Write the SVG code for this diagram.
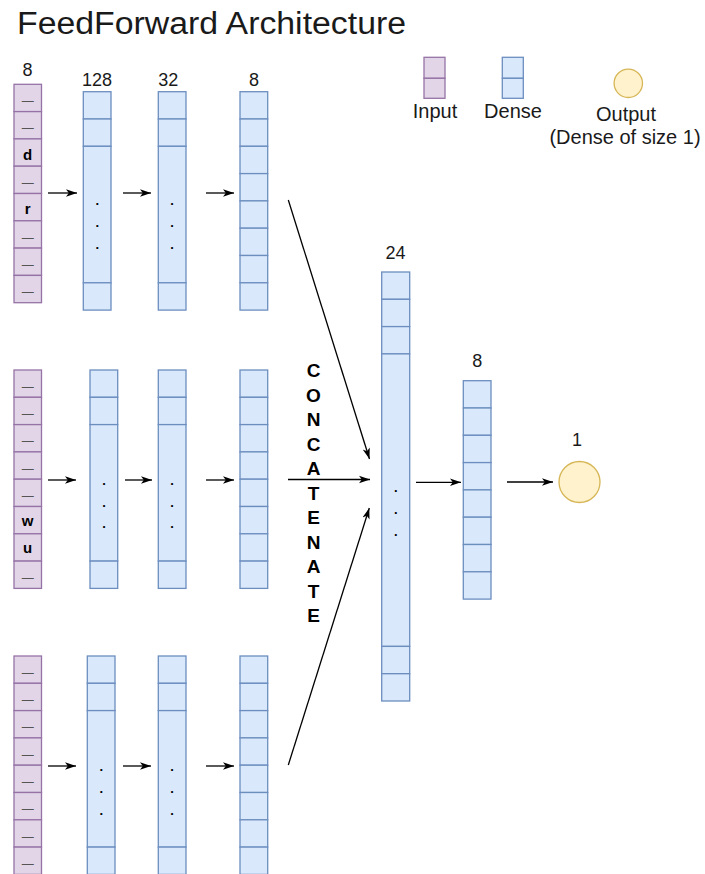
<svg xmlns="http://www.w3.org/2000/svg" width="705" height="874" viewBox="0 0 705 874">
<defs>
<marker id="ah" markerWidth="12" markerHeight="9" refX="11" refY="4.5" orient="auto" markerUnits="userSpaceOnUse">
<path d="M0,0.8 L11,4.5 L0,8.2 L2.8,4.5 Z" fill="#000"/>
</marker>
<style>
.in{fill:#e1d5e7;stroke:#9673a6;stroke-width:1.3}
.de{fill:#dae8fc;stroke:#6c8ebf;stroke-width:1.3}
.ou{fill:#fff2cc;stroke:#d6b656;stroke-width:1.3}
.t{font-family:"Liberation Sans",Arial,sans-serif;fill:#1a1a1a}
.num{font-family:"Liberation Sans",Arial,sans-serif;font-size:18px;text-anchor:middle;fill:#1a1a1a}
.leg{font-family:"Liberation Sans",Arial,sans-serif;font-size:20px;text-anchor:middle;fill:#1a1a1a}
.dash{font-family:"Liberation Sans",Arial,sans-serif;font-size:12px;text-anchor:middle;fill:#555}
.let{font-family:"Liberation Sans",Arial,sans-serif;font-size:15px;font-weight:bold;text-anchor:middle;fill:#000}
.dot{font-family:"Liberation Sans",Arial,sans-serif;font-size:13px;font-weight:bold;text-anchor:middle;fill:#000}
.cc{font-family:"Liberation Sans",Arial,sans-serif;font-size:19px;font-weight:bold;text-anchor:middle;fill:#000}
.ar{stroke:#000;stroke-width:1.3;fill:none;marker-end:url(#ah)}
</style>
</defs>
<rect width="705" height="874" fill="#fff"/>
<text class="t" x="17" y="34" font-size="31" textLength="389" lengthAdjust="spacingAndGlyphs">FeedForward Architecture</text>

<g id="legend">
<rect class="in" x="424" y="57.3" width="21" height="21"/>
<rect class="in" x="424" y="78.3" width="21" height="20"/>
<rect class="de" x="502.3" y="57.3" width="21" height="21"/>
<rect class="de" x="502.3" y="78.3" width="21" height="20"/>
<circle class="ou" cx="628.3" cy="83.3" r="14.2"/>
<text class="leg" x="435" y="118.3">Input</text>
<text class="leg" x="513" y="118.3">Dense</text>
<text class="leg" x="626" y="121.3">Output</text>
<text class="leg" x="625" y="144.3">(Dense of size 1)</text>
</g>

<!-- Row 1 -->
<g id="input1">
<text class="num" x="27.5" y="75.7">8</text>
<rect class="in" x="14" y="84.3" width="27.5" height="27.3"/>
<rect class="in" x="14" y="111.6" width="27.5" height="27.3"/>
<rect class="in" x="14" y="138.9" width="27.5" height="27.3"/>
<rect class="in" x="14" y="166.2" width="27.5" height="27.3"/>
<rect class="in" x="14" y="193.5" width="27.5" height="27.3"/>
<rect class="in" x="14" y="220.8" width="27.5" height="27.3"/>
<rect class="in" x="14" y="248.1" width="27.5" height="27.3"/>
<rect class="in" x="14" y="275.4" width="27.5" height="27.3"/>
<text class="dash" x="27.7" y="105">—</text>
<text class="dash" x="27.7" y="132.3">—</text>
<text class="let" x="27.7" y="159.5">d</text>
<text class="dash" x="27.7" y="186.9">—</text>
<text class="let" x="27.7" y="214">r</text>
<text class="dash" x="27.7" y="241.5">—</text>
<text class="dash" x="27.7" y="268.8">—</text>
<text class="dash" x="27.7" y="296.1">—</text>
</g>
<g id="dense128_1">
<text class="num" x="97" y="85.7">128</text>
<rect class="de" x="83.3" y="91.7" width="27.7" height="27.3"/>
<rect class="de" x="83.3" y="119" width="27.7" height="27.3"/>
<rect class="de" x="83.3" y="146.3" width="27.7" height="136.5"/>
<rect class="de" x="83.3" y="282.8" width="27.7" height="27.3"/>
<text class="dot" x="97.2" y="205">.</text>
<text class="dot" x="97.2" y="227">.</text>
<text class="dot" x="97.2" y="249">.</text>
</g>
<g id="dense32_1">
<text class="num" x="168.3" y="85.7">32</text>
<rect class="de" x="158.3" y="91.7" width="27.7" height="27.3"/>
<rect class="de" x="158.3" y="119" width="27.7" height="27.3"/>
<rect class="de" x="158.3" y="146.3" width="27.7" height="136.5"/>
<rect class="de" x="158.3" y="282.8" width="27.7" height="27.3"/>
<text class="dot" x="172" y="205">.</text>
<text class="dot" x="172" y="227">.</text>
<text class="dot" x="172" y="249">.</text>
</g>
<g id="dense8_1">
<text class="num" x="254" y="85.7">8</text>
<rect class="de" x="240" y="91.7" width="27.7" height="27.3"/>
<rect class="de" x="240" y="119" width="27.7" height="27.3"/>
<rect class="de" x="240" y="146.3" width="27.7" height="27.3"/>
<rect class="de" x="240" y="173.6" width="27.7" height="27.3"/>
<rect class="de" x="240" y="200.9" width="27.7" height="27.3"/>
<rect class="de" x="240" y="228.2" width="27.7" height="27.3"/>
<rect class="de" x="240" y="255.5" width="27.7" height="27.3"/>
<rect class="de" x="240" y="282.8" width="27.7" height="27.3"/>
</g>

<!-- Row 2 -->
<g id="input2">
<rect class="in" x="14" y="370" width="27.5" height="27.3"/>
<rect class="in" x="14" y="397.3" width="27.5" height="27.3"/>
<rect class="in" x="14" y="424.6" width="27.5" height="27.3"/>
<rect class="in" x="14" y="451.9" width="27.5" height="27.3"/>
<rect class="in" x="14" y="479.2" width="27.5" height="27.3"/>
<rect class="in" x="14" y="506.5" width="27.5" height="27.3"/>
<rect class="in" x="14" y="533.8" width="27.5" height="27.3"/>
<rect class="in" x="14" y="561.1" width="27.5" height="27.3"/>
<text class="dash" x="27.7" y="390.7">—</text>
<text class="dash" x="27.7" y="418">—</text>
<text class="dash" x="27.7" y="445.3">—</text>
<text class="dash" x="27.7" y="472.6">—</text>
<text class="dash" x="27.7" y="499.9">—</text>
<text class="let" x="27.7" y="526">w</text>
<text class="let" x="27.7" y="553.3">u</text>
<text class="dash" x="27.7" y="581.8">—</text>
</g>
<g id="dense128_2">
<rect class="de" x="90" y="370" width="27.7" height="27.3"/>
<rect class="de" x="90" y="397.3" width="27.7" height="27.3"/>
<rect class="de" x="90" y="424.6" width="27.7" height="136.5"/>
<rect class="de" x="90" y="561.1" width="27.7" height="27.3"/>
<text class="dot" x="104" y="485">.</text>
<text class="dot" x="104" y="506.5">.</text>
<text class="dot" x="104" y="528.2">.</text>
</g>
<g id="dense32_2">
<rect class="de" x="158.3" y="370" width="27.7" height="27.3"/>
<rect class="de" x="158.3" y="397.3" width="27.7" height="27.3"/>
<rect class="de" x="158.3" y="424.6" width="27.7" height="136.5"/>
<rect class="de" x="158.3" y="561.1" width="27.7" height="27.3"/>
<text class="dot" x="172" y="485">.</text>
<text class="dot" x="172" y="506.5">.</text>
<text class="dot" x="172" y="528.2">.</text>
</g>
<g id="dense8_2">
<rect class="de" x="240" y="370" width="27.7" height="27.3"/>
<rect class="de" x="240" y="397.3" width="27.7" height="27.3"/>
<rect class="de" x="240" y="424.6" width="27.7" height="27.3"/>
<rect class="de" x="240" y="451.9" width="27.7" height="27.3"/>
<rect class="de" x="240" y="479.2" width="27.7" height="27.3"/>
<rect class="de" x="240" y="506.5" width="27.7" height="27.3"/>
<rect class="de" x="240" y="533.8" width="27.7" height="27.3"/>
<rect class="de" x="240" y="561.1" width="27.7" height="27.3"/>
</g>

<!-- Row 3 -->
<g id="input3">
<rect class="in" x="14" y="656" width="27.5" height="27.3"/>
<rect class="in" x="14" y="683.3" width="27.5" height="27.3"/>
<rect class="in" x="14" y="710.6" width="27.5" height="27.3"/>
<rect class="in" x="14" y="737.9" width="27.5" height="27.3"/>
<rect class="in" x="14" y="765.2" width="27.5" height="27.3"/>
<rect class="in" x="14" y="792.5" width="27.5" height="27.3"/>
<rect class="in" x="14" y="819.8" width="27.5" height="27.3"/>
<rect class="in" x="14" y="847.1" width="27.5" height="27.3"/>
<text class="dash" x="27.7" y="676.7">—</text>
<text class="dash" x="27.7" y="704">—</text>
<text class="dash" x="27.7" y="731.3">—</text>
<text class="dash" x="27.7" y="758.6">—</text>
<text class="dash" x="27.7" y="785.9">—</text>
<text class="dash" x="27.7" y="813.2">—</text>
<text class="dash" x="27.7" y="840.5">—</text>
<text class="dash" x="27.7" y="867.8">—</text>
</g>
<g id="dense128_3">
<rect class="de" x="87.3" y="656" width="27.7" height="27.3"/>
<rect class="de" x="87.3" y="683.3" width="27.7" height="27.3"/>
<rect class="de" x="87.3" y="710.6" width="27.7" height="136.5"/>
<rect class="de" x="87.3" y="847.1" width="27.7" height="27.3"/>
<text class="dot" x="101.2" y="771">.</text>
<text class="dot" x="101.2" y="793">.</text>
<text class="dot" x="101.2" y="814.6">.</text>
</g>
<g id="dense32_3">
<rect class="de" x="158.3" y="656" width="27.7" height="27.3"/>
<rect class="de" x="158.3" y="683.3" width="27.7" height="27.3"/>
<rect class="de" x="158.3" y="710.6" width="27.7" height="136.5"/>
<rect class="de" x="158.3" y="847.1" width="27.7" height="27.3"/>
<text class="dot" x="172" y="771">.</text>
<text class="dot" x="172" y="793">.</text>
<text class="dot" x="172" y="814.6">.</text>
</g>
<g id="dense8_3">
<rect class="de" x="240" y="656" width="27.7" height="27.3"/>
<rect class="de" x="240" y="683.3" width="27.7" height="27.3"/>
<rect class="de" x="240" y="710.6" width="27.7" height="27.3"/>
<rect class="de" x="240" y="737.9" width="27.7" height="27.3"/>
<rect class="de" x="240" y="765.2" width="27.7" height="27.3"/>
<rect class="de" x="240" y="792.5" width="27.7" height="27.3"/>
<rect class="de" x="240" y="819.8" width="27.7" height="27.3"/>
<rect class="de" x="240" y="847.1" width="27.7" height="27.3"/>
</g>

<!-- Concatenate label -->
<g id="concat_label">
<text class="cc" x="313.5" y="377">C</text>
<text class="cc" x="313.5" y="401.5">O</text>
<text class="cc" x="313.5" y="426">N</text>
<text class="cc" x="313.5" y="450.5">C</text>
<text class="cc" x="313.5" y="475">A</text>
<text class="cc" x="313.5" y="499.5">T</text>
<text class="cc" x="313.5" y="524">E</text>
<text class="cc" x="313.5" y="548.5">N</text>
<text class="cc" x="313.5" y="573">A</text>
<text class="cc" x="313.5" y="597.5">T</text>
<text class="cc" x="313.5" y="622">E</text>
</g>

<g id="dense24">
<text class="num" x="395.5" y="259.3">24</text>
<rect class="de" x="381.7" y="272" width="28" height="27.3"/>
<rect class="de" x="381.7" y="299.3" width="28" height="27.3"/>
<rect class="de" x="381.7" y="326.6" width="28" height="27.3"/>
<rect class="de" x="381.7" y="353.9" width="28" height="292.5"/>
<rect class="de" x="381.7" y="646.4" width="28" height="27.3"/>
<rect class="de" x="381.7" y="673.7" width="28" height="27.3"/>
<text class="dot" x="395.8" y="491.5">.</text>
<text class="dot" x="395.8" y="514">.</text>
<text class="dot" x="395.8" y="536">.</text>
</g>
<g id="dense8_out">
<text class="num" x="477.3" y="366.7">8</text>
<rect class="de" x="463.3" y="380.7" width="27.7" height="27.3"/>
<rect class="de" x="463.3" y="408" width="27.7" height="27.3"/>
<rect class="de" x="463.3" y="435.3" width="27.7" height="27.3"/>
<rect class="de" x="463.3" y="462.6" width="27.7" height="27.3"/>
<rect class="de" x="463.3" y="489.9" width="27.7" height="27.3"/>
<rect class="de" x="463.3" y="517.2" width="27.7" height="27.3"/>
<rect class="de" x="463.3" y="544.5" width="27.7" height="27.3"/>
<rect class="de" x="463.3" y="571.8" width="27.7" height="27.3"/>
</g>
<g id="output">
<text class="num" x="577" y="446">1</text>
<circle class="ou" cx="579.5" cy="482" r="20.5"/>
</g>

<g id="connectors">
<line class="ar" x1="48" y1="193" x2="77" y2="193"/>
<line class="ar" x1="123" y1="193" x2="151" y2="193"/>
<line class="ar" x1="206" y1="193" x2="234" y2="193"/>
<line class="ar" x1="48" y1="480" x2="76" y2="480"/>
<line class="ar" x1="125" y1="480" x2="152" y2="480"/>
<line class="ar" x1="206" y1="480" x2="234" y2="480"/>
<line class="ar" x1="48" y1="766" x2="76" y2="766"/>
<line class="ar" x1="123" y1="766" x2="151" y2="766"/>
<line class="ar" x1="206" y1="766" x2="234" y2="766"/>
<line class="ar" x1="288.3" y1="200" x2="369.5" y2="459"/>
<line class="ar" x1="288" y1="479.5" x2="370" y2="479.5"/>
<line class="ar" x1="288.3" y1="765" x2="369.3" y2="508"/>
<line class="ar" x1="416" y1="482.3" x2="461" y2="482.3"/>
<line class="ar" x1="507" y1="482" x2="553" y2="482"/>
</g>
</svg>
